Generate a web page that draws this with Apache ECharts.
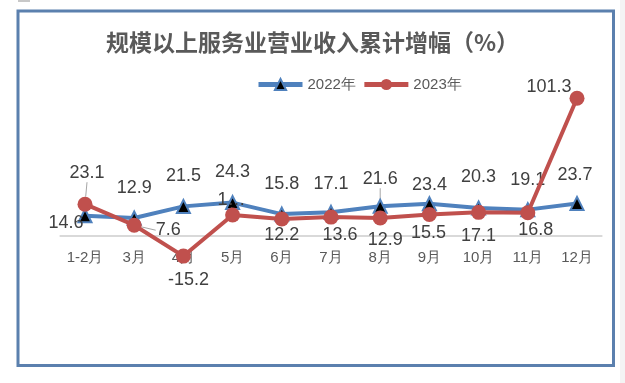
<!DOCTYPE html>
<html>
<head>
<meta charset="utf-8">
<script src="https://cdn.jsdelivr.net/npm/echarts@6/dist/echarts.min.js"></script>
<style>
html,body{margin:0;padding:0;background:#fff;}
#c{width:625px;height:383px;}
</style>
</head>
<body>
<div id="c"></div>
<script>
// ---- data ----
var categories = ['1-2月','3月','4月','5月','6月','7月','8月','9月','10月','11月','12月'];
var values2022 = [14.6, 12.9, 21.5, 24.3, 15.8, 17.1, 21.6, 23.4, 20.3, 19.1, 23.7];
var values2023 = [23.1, 7.6, -15.2, 15.1, 12.2, 13.6, 12.9, 15.5, 17.1, 16.8, 101.3];
var seriesNames = ['2022年', '2023年'];
var titleText = '规模以上服务业营业收入累计增幅（%）';

// ---- label placement (styling) ----
var off2022 = [[-19,7],[0,-30],[0,-30],[0,-31],[0,-30],[0,-28],[0,-27],[0,-19],[0,-31],[0,-30],[-2,-28]];
var off2023 = [[2,-31],[34,5],[5,24],[-1,-15],[0,16],[9,18],[5,22],[-1,19],[0,24],[8,17],[-28,-11]];
var leader2022 = [6];
var leader2023 = [0,1,3];

function build(vals, leaders) {
  return vals.map(function (v, i) {
    var o = { value: v };
    if (leaders.indexOf(i) >= 0) o.labelLine = { show: true };
    return o;
  });
}

var chart = echarts.init(document.getElementById('c'), null, { renderer: 'canvas' });
var labelFont = { fontFamily: 'Liberation Sans', fontSize: 18, color: '#404040' };

chart.setOption({
  backgroundColor: '#ffffff',
  animation: false,
  title: {
    text: titleText,
    left: 'center',
    top: 26,
    textStyle: { fontFamily: 'Noto Sans CJK SC', fontSize: 23, fontWeight: 'bold', color: '#595959' }
  },
  legend: {
    top: 72,
    left: 251,
    itemWidth: 44,
    itemHeight: 14,
    itemGap: 6,
    textStyle: { fontFamily: 'Liberation Sans', fontSize: 15, color: '#595959' },
    data: [
      { name: seriesNames[0], lineStyle: { width: 5 } },
      { name: seriesNames[1], lineStyle: { width: 5 } }
    ]
  },
  grid: { left: 60.4, right: 23.4, top: 86.5, height: 149, containLabel: false },
  xAxis: {
    type: 'category',
    data: categories,
    boundaryGap: true,
    axisLine: { show: true, onZero: false, lineStyle: { color: '#d9d9d9', width: 2 } },
    axisTick: { show: false },
    axisLabel: { margin: 15, fontFamily: 'Liberation Sans', fontSize: 15, color: '#595959' },
    splitLine: { show: false }
  },
  yAxis: {
    type: 'value',
    min: 0,
    max: 110,
    show: false,
    splitLine: { show: false }
  },
  graphic: [
    { type: 'rect', shape: { x: 18, y: 11, width: 595.5, height: 354.5 }, style: { fill: 'none', stroke: '#5b80ae', lineWidth: 3 }, z: 100 },
    { type: 'rect', shape: { x: 18, y: 0, width: 12, height: 2 }, style: { fill: '#c8c8c8' } },
    { type: 'rect', shape: { x: 620, y: 0, width: 5, height: 383 }, style: { fill: '#f4f4f4' } }
  ],
  series: [
    {
      name: seriesNames[0],
      type: 'line',
      clip: false,
      data: build(values2022, leader2022),
      symbol: 'triangle',
      symbolSize: 13,
      lineStyle: { color: '#4f81bd', width: 4 },
      itemStyle: { color: '#000000', borderColor: '#4f81bd', borderWidth: 2 },
      label: Object.assign({ show: true, position: 'inside' }, labelFont),
      labelLine: { show: false, lineStyle: { color: '#a6a6a6', width: 1 } },
      labelLayout: function (p) { var o = off2022[p.dataIndex]; return { dx: o[0], dy: o[1] }; },
      z: 2
    },
    {
      name: seriesNames[1],
      type: 'line',
      clip: false,
      data: build(values2023, leader2023),
      symbol: 'circle',
      symbolSize: 15,
      lineStyle: { color: '#c0504d', width: 4 },
      itemStyle: { color: '#c0504d' },
      label: Object.assign({
        show: true, position: 'inside',
        formatter: function (p) { return p.dataIndex === 3 ? '1…' : String(p.value); }
      }, labelFont),
      labelLine: { show: false, lineStyle: { color: '#a6a6a6', width: 1 } },
      labelLayout: function (p) { var o = off2023[p.dataIndex]; return { dx: o[0], dy: o[1] }; },
      z: 3
    }
  ]
});
</script>
</body>
</html>
